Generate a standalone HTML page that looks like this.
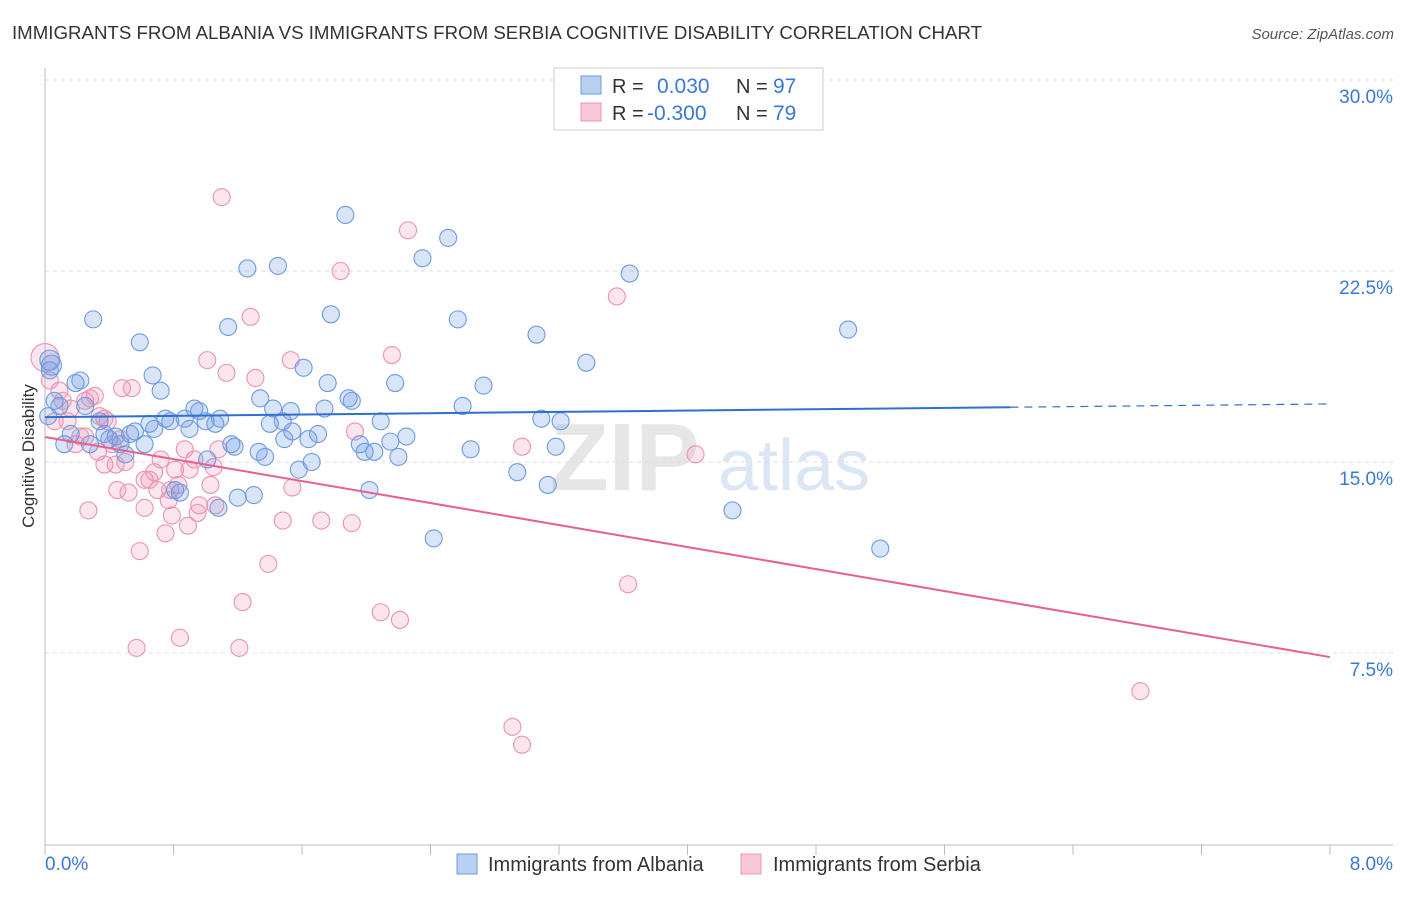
<!DOCTYPE html>
<html><head><meta charset="utf-8"><style>
body{margin:0;background:#fff;font-family:"Liberation Sans",sans-serif;}
svg text{font-family:"Liberation Sans",sans-serif;}
</style></head><body>
<svg id="chart" width="1406" height="892">
<text x="12" y="39" font-size="18.5" fill="#333" textLength="970" lengthAdjust="spacingAndGlyphs">IMMIGRANTS FROM ALBANIA VS IMMIGRANTS FROM SERBIA COGNITIVE DISABILITY CORRELATION CHART</text>
<text x="1394" y="39" font-size="15" fill="#555" text-anchor="end" font-style="italic">Source: ZipAtlas.com</text>
<g><text x="550" y="490" font-size="96" fill="#e6e6e6" font-family="Liberation Serif" font-weight="bold">ZIP</text><text x="718" y="490" font-size="72" fill="#dbe6f5">atlas</text></g>
<g id="grid"></g>
<line x1="45" y1="68" x2="45" y2="845" stroke="#bbb"/>
<line x1="45" y1="845" x2="1393" y2="845" stroke="#bbb"/>
<text transform="translate(34,456) rotate(-90)" font-size="17" fill="#333" text-anchor="middle">Cognitive Disability</text>
<text x="45" y="870" font-size="19" fill="#3a78d4">0.0%</text>
<text x="1393" y="870" font-size="19" fill="#3a78d4" text-anchor="end">8.0%</text>
<g id="pts"></g>
<g id="lines"></g>
<g>
<rect x="554" y="68" width="269" height="62" fill="#fff" stroke="#ccc"/>
<rect x="581" y="76" width="20" height="18" fill="#b8d0f2" stroke="#6e9be0"/>
<rect x="581" y="103" width="20" height="18" fill="#f8c8d8" stroke="#eb93b0"/>
<text x="612" y="93" font-size="20" fill="#333">R =</text><text x="657" y="93" font-size="21" fill="#3a78d4">0.030</text>
<text x="736" y="93" font-size="20" fill="#333">N =</text><text x="773" y="93" font-size="21" fill="#3a78d4">97</text>
<text x="612" y="120" font-size="20" fill="#333">R =</text><text x="647" y="120" font-size="21" fill="#3a78d4">-0.300</text>
<text x="736" y="120" font-size="20" fill="#333">N =</text><text x="773" y="120" font-size="21" fill="#3a78d4">79</text>
</g>
<g><rect x="457" y="854" width="20" height="20" fill="#b8d0f2" stroke="#6e9be0"/><text x="488" y="871" font-size="20" fill="#333">Immigrants from Albania</text></g>
<g><rect x="741" y="854" width="20" height="20" fill="#f8c8d8" stroke="#eb93b0"/><text x="773" y="871" font-size="20" fill="#333">Immigrants from Serbia</text></g>
</svg>
<script>
const yTicks=[7.5,15,22.5,30];
const yTickLabels=["7.5%","15.0%","22.5%","30.0%"];
const xTicks=[0,0.8,1.6,2.4,3.2,4,4.8,5.6,6.4,7.2,8];
const blueX=[0.03,0.04,0.06,0.09,0.12,0.16,0.22,0.25,0.28,0.30,0.34,0.37,0.40,0.44,0.47,0.50,0.53,0.56,0.59,0.62,0.65,0.68,0.67,0.72,0.75,0.78,0.81,0.84,0.87,0.90,0.93,0.96,1.00,1.01,1.06,1.08,1.09,1.14,1.16,1.18,1.20,1.26,1.30,1.33,1.34,1.37,1.40,1.42,1.45,1.48,1.49,1.53,1.54,1.58,1.61,1.64,1.66,1.70,1.74,1.76,1.78,1.87,1.89,1.91,1.96,1.99,2.02,2.05,2.09,2.15,2.18,2.20,2.25,2.35,2.42,2.51,2.57,2.60,2.65,2.73,2.94,3.06,3.09,3.13,3.18,3.21,3.37,3.64,4.28,5.00,5.20,0.03,0.02,0.19];
const blueY=[19.0,18.8,17.4,17.2,15.7,16.1,18.2,17.2,15.7,20.6,16.6,16.1,15.9,16.0,15.7,15.3,16.1,16.2,19.7,15.7,16.5,16.3,18.4,17.8,16.7,16.6,13.9,13.8,16.7,16.3,17.1,17.0,16.6,15.1,16.5,13.2,16.7,20.3,15.7,15.6,13.6,22.6,13.7,15.4,17.5,15.2,16.5,17.1,22.7,16.6,15.9,17.0,16.2,14.7,18.7,15.9,15.0,16.1,17.1,18.1,20.8,24.7,17.5,17.4,15.7,15.4,13.9,15.4,16.6,15.8,18.1,15.2,16.0,23.0,12.0,23.8,20.6,17.2,15.5,18.0,14.6,20.0,16.7,14.1,15.6,16.6,18.9,22.4,13.1,20.2,11.6,18.6,16.8,18.1];
const pinkX=[0.0,0.03,0.06,0.09,0.11,0.14,0.19,0.22,0.25,0.27,0.28,0.31,0.33,0.34,0.37,0.39,0.42,0.44,0.45,0.48,0.50,0.52,0.54,0.59,0.57,0.62,0.65,0.68,0.70,0.72,0.75,0.77,0.79,0.81,0.83,0.84,0.87,0.89,0.90,0.93,0.95,0.96,1.01,1.03,1.05,1.08,1.10,1.13,1.21,1.23,1.28,1.31,1.39,1.48,1.53,1.54,1.72,1.84,1.91,1.93,2.09,2.16,2.21,2.26,2.91,2.97,2.97,3.56,3.63,4.05,6.82,0.37,0.16,0.25,0.47,0.62,0.78,1.06];
const pinkY=[19.1,18.2,16.6,17.8,17.4,16.6,15.7,16.0,16.0,13.1,17.5,17.6,15.4,16.8,14.9,16.6,15.7,14.9,13.9,17.9,15.0,13.8,17.9,11.5,7.7,13.2,14.3,14.6,13.9,15.1,12.2,13.5,12.9,14.7,14.1,8.1,15.5,12.5,14.7,15.1,13.0,13.3,19.0,14.1,14.8,15.5,25.4,18.5,7.7,9.5,20.7,18.3,11.0,12.7,19.0,14.0,12.7,22.5,12.6,16.2,9.1,19.2,8.8,24.1,4.6,3.9,15.6,21.5,10.2,15.3,6.0,16.7,17.1,17.4,15.9,14.3,13.9,13.3];
const blueTrend=[16.76,17.28];
const pinkTrend=[15.98,7.34];
const blueSolidEnd=6.01;
const NS="http://www.w3.org/2000/svg";
const sx=v=>45+v/8*1285;
const sy=v=>844-v/7.5*191;
function mk(tag,attrs,parent){const e=document.createElementNS(NS,tag);for(const k in attrs)e.setAttribute(k,attrs[k]);parent.appendChild(e);return e;}
const grid=document.getElementById('grid');
yTicks.forEach((t,i)=>{
 const l=mk('line',{x1:45,x2:1393,y1:sy(t),y2:sy(t),stroke:'#ddd','stroke-dasharray':'4,4'},grid);
 
 
 const tx=mk('text',{x:1393,y:sy(t)+23,'font-size':19,fill:'#3a78d4','text-anchor':'end'},grid);
 tx.textContent=yTickLabels[i];
 
 
});
xTicks.forEach(t=>{
 const l=mk('line',{x1:sx(t),x2:sx(t),y1:845,y2:855,stroke:'#bbb'},grid);
 
 
});
const pts=document.getElementById('pts');
pinkX.forEach((x,i)=>{
 const c=mk('circle',{cx:sx(x),cy:sy(pinkY[i]),r:i===0?14:8.5,fill:'rgba(242,150,180,0.25)',stroke:'#eb93b0','stroke-width':1.1},pts);
 
 
});
blueX.forEach((x,i)=>{
 const c=mk('circle',{cx:sx(x),cy:sy(blueY[i]),r:i<2?10:8.5,fill:'rgba(110,155,230,0.27)',stroke:'#6e9be0','stroke-width':1.1},pts);
 
 
});
const lines=document.getElementById('lines');
const bAt=x=>blueTrend[0]+(blueTrend[1]-blueTrend[0])*x/8;
let l1=mk('line',{x1:sx(0),y1:sy(bAt(0)),x2:sx(blueSolidEnd),y2:sy(bAt(blueSolidEnd)),stroke:'#2f6fd0','stroke-width':2},lines);


let l2=mk('line',{x1:sx(blueSolidEnd),y1:sy(bAt(blueSolidEnd)),x2:sx(8),y2:sy(bAt(8)),stroke:'#2f6fd0','stroke-width':1.2,'stroke-dasharray':'8,6'},lines);


let l3=mk('line',{x1:sx(0),y1:sy(pinkTrend[0]),x2:sx(8),y2:sy(pinkTrend[1]),stroke:'#e8608f','stroke-width':2},lines);


</script>
</body></html>
